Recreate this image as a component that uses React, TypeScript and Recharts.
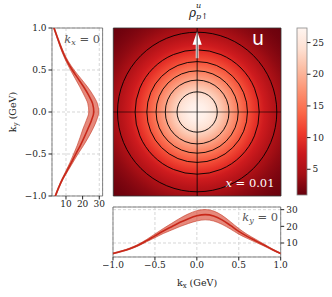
import React from "react";
import {
  ComposedChart,
  Line,
  Area,
  XAxis,
  YAxis,
  CartesianGrid,
  ReferenceArea,
  ReferenceLine,
} from "recharts";

// momentum grid shared by both slices (GeV)
const kGrid = [-1, -0.9, -0.8, -0.7, -0.6, -0.5, -0.4, -0.3, -0.2, -0.1, 0, 0.1, 0.2, 0.3, 0.4, 0.5, 0.6, 0.7, 0.8, 0.9, 1];

// ky = 0 slice (bottom panel)
const bottomMid = [3.7, 5.0, 6.6, 8.7, 11.4, 14.3, 17.2, 19.8, 22.4, 24.6, 26.3, 27.0, 26.2, 23.9, 20.6, 17.0, 14.0, 11.4, 8.8, 6.1, 3.7];
const bottomLo = [3.4, 4.7, 6.2, 8.2, 10.7, 13.2, 15.7, 17.8, 19.9, 21.7, 23.2, 23.9, 23.2, 21.2, 18.4, 15.3, 12.8, 10.5, 8.2, 5.7, 3.4];
const bottomHi = [4.0, 5.3, 7.0, 9.2, 12.1, 15.4, 18.7, 21.8, 24.9, 27.5, 29.4, 30.1, 29.2, 26.6, 22.8, 18.7, 15.2, 12.3, 9.4, 6.5, 4.0];

// kx = 0 slice (left panel), ky from -1 to 1
const leftMid = [3.6, 5.6, 7.9, 10.6, 13.3, 15.9, 18.6, 21.0, 23.2, 25.3, 26.7, 26.0, 23.6, 20.6, 17.2, 13.8, 10.8, 8.4, 6.4, 4.6, 2.8];
const leftLo = [3.3, 5.3, 7.5, 10.0, 12.4, 14.6, 16.7, 18.5, 20.2, 22.2, 23.7, 23.1, 20.9, 18.3, 15.5, 12.7, 10.1, 7.9, 6.0, 4.3, 2.5];
const leftHi = [3.9, 5.9, 8.3, 11.2, 14.2, 17.2, 20.5, 23.5, 26.2, 28.4, 29.7, 28.9, 26.3, 22.9, 18.9, 14.9, 11.5, 8.9, 6.8, 4.9, 3.1];

// radial profile of the density map
const heatRadius = [0, 0.1, 0.2, 0.3, 0.4, 0.5, 0.6, 0.7, 0.8, 0.9, 1.0, 1.1, 1.2, 1.3, 1.45];
const heatValue = [27.2, 26.4, 24.4, 21.4, 18.3, 15.2, 12.4, 10.0, 7.8, 5.9, 4.3, 3.1, 2.2, 1.5, 0.95];
const heatCenter = [0, 0];

// contour radii (GeV)
const contourRadius = [0.24, 0.38, 0.49, 0.6, 0.74, 0.95];

const kTicks = [-1, -0.5, 0, 0.5, 1];
const valueTicks = [10, 20, 30];
const colorTicks = [5, 10, 15, 20, 25];
const colorRange = [0.94, 27.3];
const valueDomainBottom = [1.6, 31.6];
const valueDomainLeft = [1.6, 32];

// polarization arrow
const arrow = { kx: 0, from: 0.64, to: 0.96, half: 0.055 };

const redsR = ["#67000d", "#a50f15", "#cb181d", "#ef3b2c", "#fb6a4a", "#fc9272", "#fcbba1", "#fee0d2", "#fff5f0"];

function hex(c: string) {
  return [1, 3, 5].map((i) => parseInt(c.slice(i, i + 2), 16));
}

function cmap(v: number) {
  let t = (v - colorRange[0]) / (colorRange[1] - colorRange[0]);
  t = Math.max(0, Math.min(1, t));
  const p = t * (redsR.length - 1);
  const i = Math.min(Math.floor(p), redsR.length - 2);
  const f = p - i;
  const a = hex(redsR[i]);
  const b = hex(redsR[i + 1]);
  const m = a.map((x, j) => Math.round(x + (b[j] - x) * f));
  return `rgb(${m[0]},${m[1]},${m[2]})`;
}

const bottomRows = kGrid.map((k, i) => ({ kx: k, mid: bottomMid[i], band: [bottomLo[i], bottomHi[i]] }));
const leftRows = kGrid.map((k, i) => ({ ky: k, mid: leftMid[i], band: [leftLo[i], leftHi[i]] }));

const fmt = (v: number) => (v < 0 ? "\u2212" : "") + Math.abs(v).toFixed(1);

const tickStyle = { fontSize: 9, fill: "#222", fontFamily: "DejaVu Serif" };
const lineColor = "#c8281a";
const bandFill = "#d94a35";
const gridColor = "#d6d6d6";

// the map covers the [-1, 1] square; the gradient is placed in box fractions
const heatShape = (p: any) => {
  const R = heatRadius[heatRadius.length - 1];
  return (
    <g>
      <defs>
        <radialGradient id="heatGrad" cx={(heatCenter[0] + 1) / 2} cy={(1 - heatCenter[1]) / 2} r={R / 2}>
          {heatRadius.map((r, i) => (
            <stop key={i} offset={r / R} stopColor={cmap(heatValue[i])} />
          ))}
        </radialGradient>
      </defs>
      <rect x={p.x} y={p.y} width={p.width} height={p.height} fill="url(#heatGrad)" />
    </g>
  );
};

const ringShape = (p: any) => (
  <ellipse
    cx={p.x + p.width / 2}
    cy={p.y + p.height / 2}
    rx={Math.abs(p.width) / 2}
    ry={Math.abs(p.height) / 2}
    fill="none"
    stroke="#000"
    strokeWidth={0.9}
  />
);

const arrowShape = (p: any) => {
  const cx = p.x + p.width / 2;
  const s = p.width * 0.15;
  const bottom = p.y + p.height;
  const base = p.y + p.height * 0.5;
  const pts = [
    [cx - s, bottom],
    [cx + s, bottom],
    [cx + s, base],
    [p.x + p.width, base],
    [cx, p.y],
    [p.x, base],
    [cx - s, base],
  ];
  return <polygon points={pts.map((q) => q.join(",")).join(" ")} fill="#fff" />;
};

const cbShape = (p: any) => (
  <g>
    <defs>
      <linearGradient id="cbGrad" x1="0" y1="1" x2="0" y2="0">
        {redsR.map((c, i) => (
          <stop key={i} offset={i / (redsR.length - 1)} stopColor={c} />
        ))}
      </linearGradient>
    </defs>
    <rect x={p.x} y={p.y} width={p.width} height={p.height} fill="url(#cbGrad)" stroke="#888" strokeWidth={0.8} />
  </g>
);

function HeatMap() {
  return (
    <ComposedChart width={195} height={190} margin={{ top: 10, right: 14, bottom: 0, left: 0 }} data={bottomRows}>
      <XAxis type="number" dataKey="kx" domain={[-1, 1]} ticks={kTicks} tick={false} tickSize={3.5} axisLine={false} tickLine={{ stroke: "#222" }} height={12} allowDataOverflow />
      <YAxis type="number" domain={[-1, 1]} ticks={kTicks} tick={false} tickSize={3.5} axisLine={false} tickLine={{ stroke: "#222" }} width={13.3} allowDataOverflow />
      <ReferenceArea x1={-1} x2={1} y1={-1} y2={1} ifOverflow="visible" shape={heatShape} />
      {contourRadius.map((r) => (
        <ReferenceArea key={r} x1={heatCenter[0] - r} x2={heatCenter[0] + r} y1={heatCenter[1] - r} y2={heatCenter[1] + r} ifOverflow="visible" shape={ringShape} />
      ))}
      <ReferenceLine x={0} stroke="#000" strokeWidth={0.8} />
      <ReferenceLine y={0} stroke="#000" strokeOpacity={0.75} strokeWidth={0.8} />
      <ReferenceArea x1={arrow.kx - arrow.half} x2={arrow.kx + arrow.half} y1={arrow.from} y2={arrow.to} ifOverflow="visible" shape={arrowShape} />
      <ReferenceArea x1={-1} x2={1} y1={-1} y2={1} fill="none" stroke="#333" strokeWidth={0.8} ifOverflow="visible" />
    </ComposedChart>
  );
}

function LeftSlice() {
  return (
    <ComposedChart layout="vertical" width={96.6} height={198} margin={{ top: 10, right: 4, bottom: 0, left: 0 }} data={leftRows}>
      <CartesianGrid stroke={gridColor} strokeDasharray="3 2" />
      <XAxis type="number" domain={valueDomainLeft} ticks={valueTicks} tick={tickStyle} tickSize={3.5} tickMargin={1} axisLine={false} tickLine={{ stroke: "#222" }} height={20} allowDataOverflow />
      <YAxis type="number" dataKey="ky" reversed domain={[-1, 1]} ticks={kTicks} tickFormatter={fmt} tick={tickStyle} tickSize={3.5} tickMargin={2} axisLine={false} tickLine={{ stroke: "#222" }} width={42} allowDataOverflow />
      <Area dataKey="band" type="monotone" fill={bandFill} fillOpacity={0.65} stroke="#c43a26" strokeWidth={0.6} isAnimationActive={false} dot={false} activeDot={false} />
      <Line dataKey="mid" type="monotone" stroke={lineColor} strokeWidth={1.6} dot={false} activeDot={false} isAnimationActive={false} />
      <ReferenceArea x1={valueDomainLeft[0]} x2={valueDomainLeft[1]} y1={-1} y2={1} fill="none" stroke="#666" strokeWidth={0.8} ifOverflow="visible" />
    </ComposedChart>
  );
}

function BottomSlice() {
  return (
    <ComposedChart width={217.7} height={100} margin={{ top: 10, right: 0, bottom: 0, left: 10 }} data={bottomRows}>
      <CartesianGrid stroke={gridColor} strokeDasharray="3 2" />
      <XAxis type="number" dataKey="kx" domain={[-1, 1]} ticks={kTicks} tickFormatter={fmt} tick={tickStyle} tickSize={3.5} tickMargin={1} axisLine={false} tickLine={{ stroke: "#222" }} height={40} allowDataOverflow />
      <YAxis orientation="right" type="number" domain={valueDomainBottom} ticks={valueTicks} tick={tickStyle} tickSize={3.5} tickMargin={2} axisLine={false} tickLine={{ stroke: "#222" }} width={40} allowDataOverflow />
      <Area dataKey="band" type="monotone" fill={bandFill} fillOpacity={0.65} stroke="#c43a26" strokeWidth={0.6} isAnimationActive={false} dot={false} activeDot={false} />
      <Line dataKey="mid" type="monotone" stroke={lineColor} strokeWidth={1.6} dot={false} activeDot={false} isAnimationActive={false} />
      <ReferenceArea x1={-1} x2={1} y1={valueDomainBottom[0]} y2={valueDomainBottom[1]} fill="none" stroke="#666" strokeWidth={0.8} ifOverflow="visible" />
    </ComposedChart>
  );
}

function ColorBar() {
  return (
    <ComposedChart width={45} height={190} margin={{ top: 10, right: 0, bottom: 0, left: 10 }} data={bottomRows}>
      <XAxis type="number" dataKey="kx" domain={[0, 1]} tick={false} tickLine={false} axisLine={false} height={13} allowDataOverflow />
      <YAxis orientation="right" type="number" domain={colorRange} ticks={colorTicks} tick={tickStyle} tickSize={3.5} tickMargin={2} axisLine={false} tickLine={{ stroke: "#222" }} width={25} allowDataOverflow />
      <ReferenceArea x1={0} x2={1} y1={colorRange[0]} y2={colorRange[1]} ifOverflow="visible" shape={cbShape} />
    </ComposedChart>
  );
}

export default function App() {
  const abs = (left: number, top: number): React.CSSProperties => ({ position: "absolute", left, top });
  return (
    <div style={{ position: "absolute", left: 0, top: 0, width: 332, height: 297, background: "#fff", fontFamily: "DejaVu Serif" }}>
      <div style={abs(9.7, 18)}>
        <LeftSlice />
      </div>
      <div style={abs(100, 18)}>
        <HeatMap />
      </div>
      <div style={abs(103.3, 197.3)}>
        <BottomSlice />
      </div>
      <div style={abs(286.7, 18)}>
        <ColorBar />
      </div>
      <svg width={332} height={297} style={{ position: "absolute", left: 0, top: 0, pointerEvents: "none" }} fontFamily="DejaVu Serif">
        <text x={189} y={17} fontSize={12} fontStyle="italic" fill="#222">
          ρ
        </text>
        <text x={196} y={8} fontSize={8} fontStyle="italic" fill="#222">
          u
        </text>
        <text x={196} y={19} fontSize={8} fill="#222">
          <tspan fontStyle="italic">p</tspan>↑
        </text>
        <text x={15.5} y={112} fontSize={9.5} textAnchor="middle" fill="#222" transform="rotate(-90 15.5 112)">
          k<tspan fontSize={7} dy={2}>y</tspan>
          <tspan dy={-2}> (GeV)</tspan>
        </text>
        <text x={197} y={286} fontSize={9.5} textAnchor="middle" fill="#222">
          k<tspan fontSize={7} dy={2}>x</tspan>
          <tspan dy={-2}> (GeV)</tspan>
        </text>
        <text x={100} y={43} fontSize={11.5} textAnchor="end" fill="#555">
          <tspan fontStyle="italic">k</tspan>
          <tspan fontSize={8} fontStyle="italic" dy={2}>x</tspan>
          <tspan dy={-2}> = 0</tspan>
        </text>
        <text x={278} y={221} fontSize={11.5} textAnchor="end" fill="#555">
          <tspan fontStyle="italic">k</tspan>
          <tspan fontSize={8} fontStyle="italic" dy={2}>y</tspan>
          <tspan dy={-2}> = 0</tspan>
        </text>
        <text x={274.5} y={187} fontSize={11.5} textAnchor="end" fill="#fff">
          <tspan fontStyle="italic">x</tspan> = 0.01
        </text>
        <text x={252} y={45} fontSize={19} fill="#fff" fontFamily="DejaVu Sans">
          u
        </text>
      </svg>
    </div>
  );
}
